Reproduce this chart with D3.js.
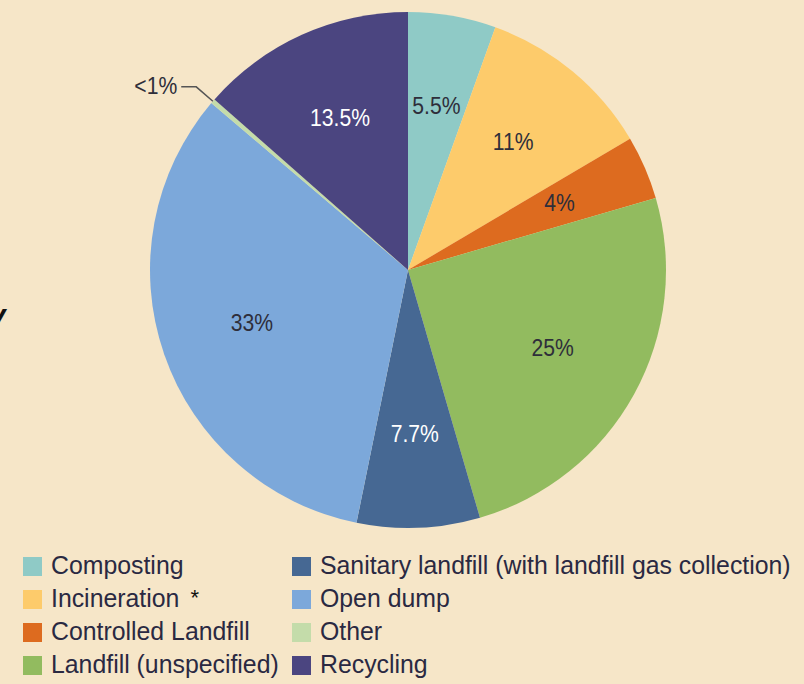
<!DOCTYPE html>
<html>
<head>
<meta charset="utf-8">
<script src="https://cdn.jsdelivr.net/npm/d3@7"></script>
<style>
  body { margin: 0; background: #f6e6c8; }
  #chart { width: 804px; height: 684px; }
  text { font-family: "Liberation Sans", Arial, sans-serif; }
</style>
</head>
<body>
<div id="chart"></div>
<script>
// slices, clockwise from 12 o'clock
var categories = ["Composting", "Incineration", "Controlled Landfill", "Landfill (unspecified)",
    "Sanitary landfill (with landfill gas collection)", "Open dump", "Other", "Recycling"];
var shares = [5.5, 11, 4, 25, 7.7, 33, 0.3, 13.5];
var shareLabels = ["5.5%", "11%", "4%", "25%", "7.7%", "33%", "<1%", "13.5%"];
var colors = ["#8fcac6", "#fdcb6b", "#dd6b1f", "#92bb5f", "#466893", "#7ca8da", "#c4dcaa", "#4b4580"];
var labelColors = ["#2e2e3a", "#2e2e3a", "#2e2e3a", "#2e2e3a", "#ffffff", "#2e2e3a", "#2e2e3a", "#ffffff"];

// legend is laid out in two columns of four
var legendColumns = [
    [0, 1, 2, 3],
    [4, 5, 6, 7]
];


window.onload = function () {
    drawPie();
    drawLegend();
};


function drawPie() {
    var svg = d3.select("#chart").append("svg")
        .attr("width", 804)
        .attr("height", 684);

    svg.append("rect")
        .attr("width", 804).attr("height", 684)
        .attr("fill", "#f6e6c8");

    // cut off letter at the left edge of the page
    svg.append("text")
        .attr("x", -11)
        .attr("y", 325)
        .style("font-style", "italic")
        .style("font-weight", "bold")
        .style("font-size", "30px")
        .attr("fill", "#111")
        .text("v");

    var radius = 258;
    var g = svg.append("g")
        .attr("id", "pie")
        .attr("transform", "translate(408,270)");

    var data = categories.map(function (c, i) {
        return { name: c, value: shares[i], label: shareLabels[i], color: colors[i], labelColor: labelColors[i] };
    });

    var pie = d3.pie().sort(null).value(function (d) { return d.value; });
    var arc = d3.arc().innerRadius(0).outerRadius(radius);
    var labelArc = d3.arc().innerRadius(radius * 0.64).outerRadius(radius * 0.64);

    var arcs = pie(data);

    g.selectAll("path.slice")
        .data(arcs)
        .enter().append("path")
        .attr("class", "slice")
        .attr("d", arc)
        .attr("fill", function (d) { return d.data.color; });

    // labels inside the big slices (condensed look)
    g.selectAll("text.share")
        .data(arcs.filter(function (d) { return d.data.value >= 1; }))
        .enter().append("text")
        .attr("class", "share")
        .attr("transform", function (d) { return "translate(" + labelArc.centroid(d) + ") scale(0.92,1)"; })
        .attr("dy", "0.3em")
        .style("text-anchor", "middle")
        .style("font-size", "23px")
        .attr("fill", function (d) { return d.data.labelColor; })
        .text(function (d) { return d.data.label; });

    // tiny slice gets a leader line
    arcs.filter(function (d) { return d.data.value < 1; }).forEach(function (d) {
        var a = (d.startAngle + d.endAngle) / 2;
        var p0 = [Math.sin(a) * radius, -Math.cos(a) * radius];
        var p1 = [Math.sin(a) * (radius + 22), -Math.cos(a) * (radius + 22)];
        var p2 = [p1[0] - 15, p1[1]];

        g.append("path")
            .attr("d", d3.line()([p0, p1, p2]))
            .attr("fill", "none")
            .attr("stroke", "#555")
            .attr("stroke-width", 1.5);

        g.append("text")
            .attr("transform", "translate(" + (p2[0] - 4) + "," + p2[1] + ") scale(0.92,1)")
            .attr("dy", "0.33em")
            .style("text-anchor", "end")
            .style("font-size", "23px")
            .attr("fill", "#2e2e3a")
            .text(d.data.label);
    });
}


function drawLegend() {
    var svg = d3.select("#chart svg");
    var colX = [23, 292];
    var rowY = d3.scalePoint().domain([0, 1, 2, 3]).range([557, 656]);
    var items = [];

    legendColumns.forEach(function (col, ci) {
        col.forEach(function (idx, ri) {
            var item = svg.append("g")
                .attr("transform", "translate(" + colX[ci] + "," + rowY(ri) + ")");

            item.append("rect")
                .attr("width", 19)
                .attr("height", 19)
                .attr("fill", colors[idx]);

            var t = item.append("text")
                .style("font-size", "25px")
                .attr("fill", "#2a2942")
                .text(categories[idx]);

            items.push({ item: item, text: t, name: categories[idx] });
        });
    });

    // squeeze text so the longest entry ends near the right edge
    var longest = d3.max(items, function (d) { return d.text.node().getComputedTextLength(); });
    var sx = Math.min(1, 471 / longest);

    items.forEach(function (d) {
        d.text.attr("transform", "translate(28,17) scale(" + sx + ",1)");

        // footnote mark on incineration
        if (d.name === "Incineration") {
            var w = d.text.node().getComputedTextLength() * sx;
            d.item.append("text")
                .attr("x", 28 + w + 11)
                .attr("y", 15)
                .style("font-size", "22px")
                .attr("fill", "#111")
                .text("*");
        }
    });
}
</script>
</body>
</html>
